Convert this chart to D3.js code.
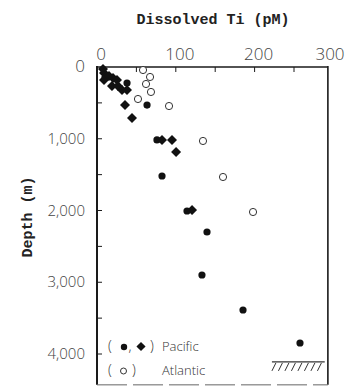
<!DOCTYPE html>
<html>
<head>
<meta charset="utf-8">
<script src="https://cdn.jsdelivr.net/npm/d3@7"></script>
<style>
  html, body { margin: 0; padding: 0; background: #fff; }
  svg { display: block; }
</style>
</head>
<body>
<svg id="chart" width="349" height="388"></svg>
<script>
// ---- Data ----
const pacificDiamondTi    = [7.6, 8.9, 11.4, 8.9, 15.2, 20.3, 25.4, 19.0, 26.6, 31.7, 38.1, 35.5, 44.4, 82.5, 95.2, 100.3, 120.6];
const pacificDiamondDepth = [28, 84, 139, 181, 125, 153, 181, 265, 265, 321, 321, 530, 711, 1017, 1017, 1185, 1993];

const pacificCircleTi    = [38.1, 63.5, 76.1, 82.5, 114.2, 139.6, 133.2, 185.3, 257.6];
const pacificCircleDepth = [223, 530, 1017, 1519, 2007, 2300, 2899, 3387, 3847];

const atlanticTi    = [58.4, 67.3, 62.2, 68.5, 52.0, 91.4, 134.5, 159.9, 198.0];
const atlanticDepth = [42, 139, 237, 348, 446, 544, 1031, 1533, 2021];

const xTickLabels = [0, 100, 200, 300];
const xMinorTicks = [50, 100, 150, 200, 250];
const yTickLabels = [0, 1000, 2000, 3000, 4000];
const yMinorTicks = [500, 1000, 1500, 2000, 2500, 3000, 3500, 4000];

const seafloorDepth = 4110;
const seafloorTi = [222, 289];

// ---- Scales ----
const x = d3.scaleLinear().domain([0, 300]).range([97, 333.4]);
const y = d3.scaleLinear().domain([0, 4000]).range([67, 354]);
const xMax = 293, yMax = 4430;

const svg = d3.select("#chart");
const ink = "#1a1a1a";
const tickFont = "'Open Sans', 'Lato', 'DejaVu Sans', sans-serif";

// Frame
const x0 = x(0), x1 = x(xMax), y0 = y(0), y1 = y(yMax);
svg.append("line").attr("x1", x0).attr("x2", x1).attr("y1", y0).attr("y2", y0)
  .attr("stroke", ink).attr("stroke-width", 1.6);
svg.append("line").attr("x1", x0).attr("x2", x0).attr("y1", y0 - 1).attr("y2", y1)
  .attr("stroke", ink).attr("stroke-width", 2);
svg.append("line").attr("x1", x1).attr("x2", x1).attr("y1", y0 - 1).attr("y2", y1)
  .attr("stroke", ink).attr("stroke-width", 1.6);
svg.append("line").attr("x1", x0).attr("x2", x1).attr("y1", y1).attr("y2", y1)
  .attr("stroke", "#666").attr("stroke-width", 1).attr("stroke-dasharray", "30,6");

// Top ticks (inward)
svg.selectAll("line.xt").data(xMinorTicks).enter().append("line")
  .attr("class", "xt")
  .attr("x1", d => x(d)).attr("x2", d => x(d))
  .attr("y1", y0).attr("y2", y0 + 5)
  .attr("stroke", ink).attr("stroke-width", 1);

// Left ticks (inward)
svg.selectAll("line.yt").data(yMinorTicks).enter().append("line")
  .attr("class", "yt")
  .attr("x1", x0).attr("x2", x0 + 5)
  .attr("y1", d => y(d)).attr("y2", d => y(d))
  .attr("stroke", ink).attr("stroke-width", 1);

// Top tick labels
svg.selectAll("text.xl").data(xTickLabels).enter().append("text")
  .attr("class", "xl")
  .attr("x", d => Math.min(x(d) + 4, 330)).attr("y", 60)
  .attr("text-anchor", "middle")
  .attr("font-family", tickFont).attr("font-weight", 300)
  .attr("font-size", 17).attr("fill", "#444")
  .text(d => d3.format(",")(d));

// Left tick labels
svg.selectAll("text.yl").data(yTickLabels).enter().append("text")
  .attr("class", "yl")
  .attr("x", 85).attr("y", d => y(d) + 5)
  .attr("text-anchor", "end")
  .attr("font-family", tickFont).attr("font-weight", 300)
  .attr("font-size", d => d === 0 ? 17 : 15).attr("fill", "#444")
  .text(d => d3.format(",")(d));

// Titles
svg.append("text").attr("x", 213).attr("y", 24)
  .attr("text-anchor", "middle")
  .attr("font-family", "'Liberation Mono', 'Courier New', monospace")
  .attr("font-weight", "bold").attr("font-size", 15).attr("fill", "#222")
  .text("Dissolved Ti (pM)");
svg.append("text")
  .attr("transform", "translate(32,217) rotate(-90)")
  .attr("text-anchor", "middle")
  .attr("font-family", "'Liberation Mono', 'Courier New', monospace")
  .attr("font-weight", "bold").attr("font-size", 15).attr("fill", "#222")
  .text("Depth (m)");

// Seafloor hatch
const sfY = y(seafloorDepth);
svg.append("line").attr("x1", x(seafloorTi[0])).attr("x2", x(seafloorTi[1]))
  .attr("y1", sfY).attr("y2", sfY).attr("stroke", "#333").attr("stroke-width", 1.2);
const hatchStarts = d3.range(x(seafloorTi[0]) + 4, x(seafloorTi[1]) + 1, 6.5);
svg.selectAll("line.hatch").data(hatchStarts).enter().append("line")
  .attr("class", "hatch")
  .attr("x1", d => d).attr("y1", sfY + 1)
  .attr("x2", d => d - 4).attr("y2", sfY + 9)
  .attr("stroke", "#333").attr("stroke-width", 1);

// Points
const diamond = d3.symbol().type(d3.symbolSquare).size(50);
const pacD = pacificDiamondTi.map((v, i) => ({ t: v, d: pacificDiamondDepth[i] }));
const pacC = pacificCircleTi.map((v, i) => ({ t: v, d: pacificCircleDepth[i] }));
const atl = atlanticTi.map((v, i) => ({ t: v, d: atlanticDepth[i] }));

svg.selectAll("circle.atl").data(atl).enter().append("circle")
  .attr("class", "atl")
  .attr("cx", d => x(d.t)).attr("cy", d => y(d.d)).attr("r", 3.6)
  .attr("fill", "#fff").attr("stroke", "#333").attr("stroke-width", 1);

svg.selectAll("path.pd").data(pacD).enter().append("path")
  .attr("class", "pd")
  .attr("transform", d => `translate(${x(d.t)},${y(d.d)}) rotate(45)`)
  .attr("d", diamond).attr("fill", "#111");

svg.selectAll("circle.pc").data(pacC).enter().append("circle")
  .attr("class", "pc")
  .attr("cx", d => x(d.t)).attr("cy", d => y(d.d)).attr("r", 3.6)
  .attr("fill", "#111");

// Legend
const legFont = "'Open Sans', 'Lato', 'DejaVu Sans', sans-serif";
function legText(xp, yp, s, size) {
  svg.append("text").attr("x", xp).attr("y", yp)
    .attr("font-family", legFont).attr("font-weight", 300)
    .attr("font-size", size || 13).attr("fill", "#333").text(s);
}
legText(108, 351, "(", 14);
svg.append("circle").attr("cx", 124).attr("cy", 347).attr("r", 3.2).attr("fill", "#111");
legText(128.5, 351, ",", 14);
svg.append("path").attr("transform", "translate(141,346.5) rotate(45)")
  .attr("d", d3.symbol().type(d3.symbolSquare).size(42)).attr("fill", "#111");
legText(150, 351, ")", 14);
legText(162, 351, "Pacific");

legText(108, 375, "(", 14);
svg.append("circle").attr("cx", 123.5).attr("cy", 371).attr("r", 3)
  .attr("fill", "none").attr("stroke", "#333").attr("stroke-width", 1);
legText(132, 375, ")", 14);
legText(162, 375, "Atlantic");
</script>
</body>
</html>
